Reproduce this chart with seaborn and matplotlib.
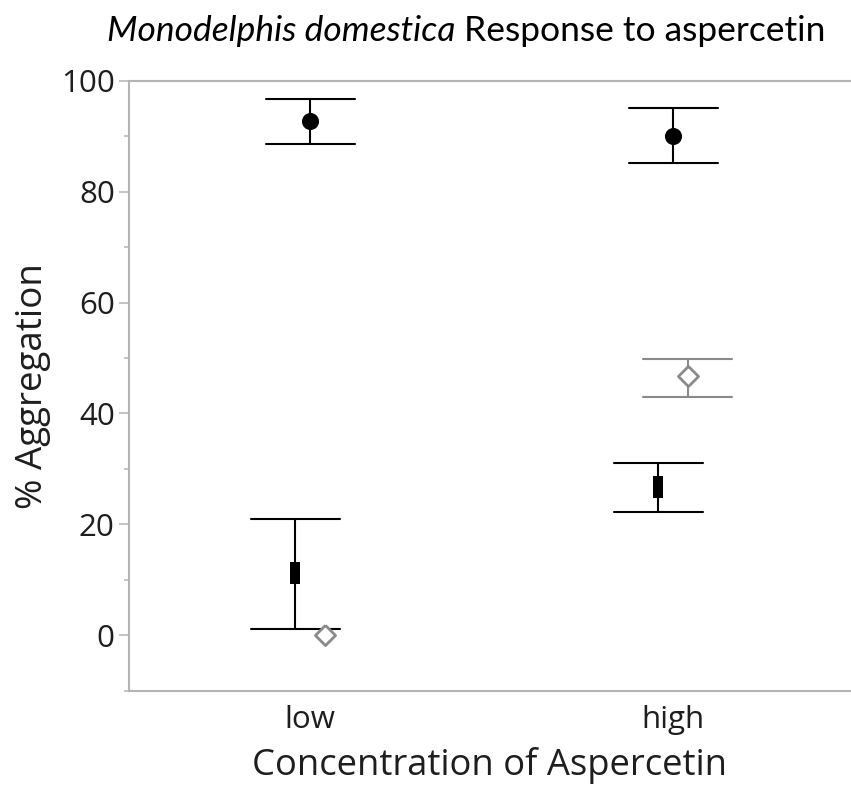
import numpy as np
import pandas as pd
import matplotlib
matplotlib.use("Agg")
import matplotlib.pyplot as plt
from matplotlib.ticker import MultipleLocator
import seaborn as sns

# Concentration levels on the x axis
concentration = ["low", "high"]
# Three measured groups (drawn as bar marker, filled circle, open diamond)
groups = ["Group A", "Group B", "Group C"]

# Point estimates and interval limits (% aggregation) per concentration
mean_a = [11.2, 26.7]
lower_a = [1.2, 22.2]
upper_a = [21.0, 31.0]

mean_b = [92.7, 90.1]
lower_b = [88.5, 85.1]
upper_b = [96.7, 95.1]

mean_c = [0.0, 46.7]
lower_c = [0.0, 43.0]
upper_c = [0.0, 49.9]

y_ticks = [0, 20, 40, 60, 80, 100]

# Long table: each group/level contributes its lower limit, estimate and upper limit,
# so a median estimator with a full-range interval reproduces estimate and whiskers.
rows = []
for g, lo, mid, hi in [
    (groups[0], lower_a, mean_a, upper_a),
    (groups[1], lower_b, mean_b, upper_b),
    (groups[2], lower_c, mean_c, upper_c),
]:
    for i, level in enumerate(concentration):
        for v in (lo[i], mid[i], hi[i]):
            rows.append({"Concentration": level, "Group": g, "Aggregation": v})
df = pd.DataFrame(rows)

sns.set_theme(style="white")
plt.rcParams["font.family"] = ["Open Sans", "DejaVu Sans"]

text_color = "#1e1e1e"
axis_gray = "#b4b4b4"
mark_gray = "#8a8a8a"

fig = plt.figure(figsize=(8.51, 7.9), dpi=100)
ax = fig.add_axes([129 / 851, 1 - 690.7 / 790, (851 - 129) / 851, (690.7 - 80.7) / 790])

rect_marker = [(-0.5, -1), (0.5, -1), (0.5, 1), (-0.5, 1), (-0.5, -1)]
diamond_marker = [(0, 1), (1, 0), (0, -1), (-1, 0), (0, 1)]

sns.pointplot(
    data=df, x="Concentration", y="Aggregation", hue="Group",
    order=concentration, hue_order=groups,
    estimator="median", errorbar=("pi", 100),
    palette=["black", "black", mark_gray],
    markers=[rect_marker, "o", diamond_marker],
    linestyles="none", dodge=0.081, capsize=0.245,
    err_kws={"linewidth": 1.5},
    ax=ax, legend=False,
)

marker_sizes = {0: 15.6, 1: 12.3, 2: 14.5}
k = 0
for line in list(ax.lines):
    if line.get_marker() in (None, "None", "none", ""):
        y = np.asarray(line.get_ydata(), dtype=float)
        if np.nanmax(y) - np.nanmin(y) == 0:
            line.remove()  # interval with no spread: nothing to draw
        else:
            line.set_zorder(2)
    else:
        line.set_zorder(3)
        line.set_markersize(marker_sizes[k])
        if k == 2:
            line.set_markerfacecolor("white")
            line.set_markeredgecolor(mark_gray)
            line.set_markeredgewidth(2.0)
        else:
            line.set_markeredgewidth(0)
        k += 1

ax.set_ylim(-10, 100)
ax.set_xlim(-0.4986, 1.49)
ax.set_yticks(y_ticks)
ax.yaxis.set_minor_locator(MultipleLocator(10))

ax.spines["right"].set_visible(False)
for side in ["left", "top", "bottom"]:
    ax.spines[side].set_color(axis_gray)
    ax.spines[side].set_linewidth(1.5)

ax.tick_params(axis="y", which="major", left=True, length=7.2, width=1.1,
               color=axis_gray, labelsize=22.5, labelcolor=text_color, pad=3)
ax.tick_params(axis="y", which="minor", left=True, length=3.8, width=1.1, color=axis_gray)
ax.tick_params(axis="x", which="both", bottom=False, length=0,
               labelsize=22.5, labelcolor=text_color, pad=10)

ax.set_xlabel("Concentration of Aspercetin", fontsize=26.2, color=text_color, labelpad=9)
ax.set_ylabel("% Aggregation", fontsize=26.5, color=text_color, labelpad=7)

# Title with italic species name followed by upright text
title_y = 1 - 41 / 790
t1 = fig.text(0, title_y, "Monodelphis domestica", fontsize=25.5, style="italic",
              color="black", family=["Lato", "DejaVu Sans"], va="baseline")
t2 = fig.text(0, title_y, " Response to aspercetin", fontsize=25.5,
              color="black", family=["Lato", "DejaVu Sans"], va="baseline")
fig.canvas.draw()
r = fig.canvas.get_renderer()
w1 = t1.get_window_extent(r).width
w2 = t2.get_window_extent(r).width
x_start = 466 - (w1 + w2) / 2
t1.set_x(x_start / 851)
t2.set_x((x_start + w1) / 851)

fig.savefig("out.png", dpi=100)
